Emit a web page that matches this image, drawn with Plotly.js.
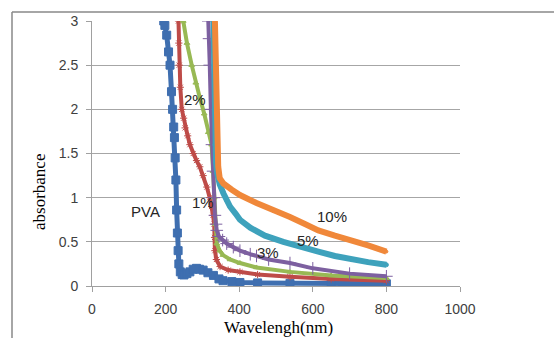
<!DOCTYPE html>
<html>
<head>
<meta charset="utf-8">
<script src="https://cdn.plot.ly/plotly-3.0.1.min.js"></script>
<style>html,body{margin:0;padding:0;background:#fff;}#chart{width:554px;height:338px;}</style>
</head>
<body>
<div id="chart"></div>
<script>
// Wavelength (nm) and absorbance values
const pvaX = [195,198,203,208,212,216,219,222,224,226,228,230,232,234,236,240,245,250,258,266,275,284,292,302,315,330,345,356,380,402,450,538,650,800];
const pvaY = [3.0,2.95,2.84,2.65,2.5,2.2,2.0,1.8,1.68,1.45,1.2,0.86,0.6,0.4,0.25,0.16,0.13,0.125,0.14,0.16,0.19,0.2,0.19,0.18,0.15,0.12,0.08,0.06,0.05,0.04,0.035,0.03,0.025,0.025];

const p1X = [235,236,237,240,244,249,253,260,266,275,284,293,302,312,320,325,329,332,333,334,338,348,370,402,450,538,650,800];
const p1Y = [3.0,2.75,2.5,2.25,2.0,1.9,1.79,1.7,1.6,1.5,1.42,1.35,1.25,1.12,1.0,0.9,0.8,0.7,0.55,0.4,0.3,0.22,0.18,0.16,0.13,0.105,0.08,0.06];

const p2X = [248,258,271,282,293,305,316,325,329,332,335,339,347,356,375,402,447,538,650,800];
const p2Y = [3.0,2.75,2.5,2.3,2.13,1.95,1.74,1.6,1.3,1.0,0.7,0.48,0.4,0.35,0.3,0.26,0.21,0.16,0.12,0.09];

const p3X = [316,318,320,323,326,329,331,334,337,339,345,355,366,384,402,430,447,480,538,600,700,800];
const p3Y = [3.0,2.8,2.5,2.0,1.6,1.3,1.0,0.8,0.7,0.63,0.56,0.52,0.48,0.44,0.4,0.36,0.34,0.3,0.26,0.2,0.14,0.11];

const p5X = [330,331,332,334,337,340,347,357,366,375,390,402,430,470,520,560,615,660,706,750,800];
const p5Y = [3.0,2.5,2.0,1.6,1.4,1.28,1.15,1.05,0.97,0.9,0.82,0.75,0.66,0.57,0.5,0.46,0.39,0.34,0.3,0.27,0.24];

const p10X = [334,336,338,341,343,347,357,380,402,447,493,538,580,615,660,706,750,800];
const p10Y = [3.0,2.5,2.0,1.6,1.35,1.22,1.16,1.09,1.03,0.94,0.85,0.78,0.7,0.63,0.57,0.52,0.46,0.39];

const xTicks = [0,200,400,600,800,1000];
const yTicks = [0,0.5,1,1.5,2,2.5,3];
const yTickText = ['0','0.5','1','1.5','2','2.5','3'];

const labels = [
  {t:'PVA', x:145, y:0.84},
  {t:'1%', x:302, y:0.95},
  {t:'2%', x:280, y:2.11},
  {t:'3%', x:478, y:0.38},
  {t:'5%', x:587, y:0.51},
  {t:'10%', x:652, y:0.79}
];

function series(x, y, color, symbol, msize, lw) {
  return {
    x: x, y: y, type: 'scatter', mode: 'lines+markers',
    line: {color: color, width: lw},
    marker: {color: color, symbol: symbol, size: msize, line: {color: color, width: 1}},
    showlegend: false, hoverinfo: 'skip'
  };
}

const data = [
  series(pvaX, pvaY, '#3F6FB0', 'square', 8, 5),
  series(p1X, p1Y, '#BE4B48', 'asterisk-open', 6, 4),
  series(p2X, p2Y, '#98B954', 'triangle-up', 5, 4),
  series(p3X, p3Y, '#7D60A0', 'cross-thin-open', 9, 4),
  series(p5X, p5Y, '#3EA2BC', 'circle', 4, 6),
  series(p10X, p10Y, '#F0883A', 'circle', 3, 6)
];

const axisFont = {family: 'Liberation Sans, Arial, sans-serif', size: 14, color: '#404040'};

const annotations = labels.map(l => ({
  x: l.x, y: l.y, xref: 'x', yref: 'y', text: l.t, showarrow: false,
  xanchor: 'center', yanchor: 'middle',
  font: {family: 'Liberation Sans, Arial, sans-serif', size: 15, color: '#262626'}
}));
annotations.push({
  x: (278-92)/368, y: (286-327)/265, xref: 'paper', yref: 'paper', text: 'Wavelengh(nm)',
  xanchor: 'center', yanchor: 'middle',
  showarrow: false, font: {family: 'Liberation Serif, Times New Roman, serif', size: 17, color: '#000'}
});
annotations.push({
  x: (39-92)/368, y: (286-192)/265, xref: 'paper', yref: 'paper', text: 'absorbance', textangle: -90,
  xanchor: 'center', yanchor: 'middle',
  showarrow: false, font: {family: 'Liberation Serif, Times New Roman, serif', size: 17, color: '#000'}
});

const layout = {
  width: 554, height: 338,
  margin: {l: 92, r: 94, t: 21, b: 52},
  paper_bgcolor: '#fff', plot_bgcolor: '#fff',
  xaxis: {
    range: [0, 1000], tickvals: xTicks, ticktext: xTicks.map(String),
    showgrid: false, zeroline: false, showline: true, linecolor: '#A0A0A0', linewidth: 1,
    ticks: 'outside', ticklen: 5, tickcolor: '#A0A0A0', tickfont: axisFont, ticklabelstandoff: 5
  },
  yaxis: {
    range: [0, 3], tickvals: yTicks, ticktext: yTickText,
    showgrid: true, gridcolor: '#A6A6A6', gridwidth: 1, zeroline: false,
    showline: true, linecolor: '#A0A0A0', linewidth: 1,
    ticks: 'outside', ticklen: 5, tickcolor: '#A0A0A0', tickfont: axisFont, ticklabelstandoff: 5
  },
  annotations: annotations,
  shapes: [
    {type: 'line', xref: 'paper', yref: 'paper', x0: (12-92)/368, x1: (554-92)/368, y0: (286-12)/265, y1: (286-12)/265, line: {color: '#888', width: 1.5}},
    {type: 'line', xref: 'paper', yref: 'paper', x0: (12-92)/368, x1: (12-92)/368, y0: (286-12)/265, y1: (286-340)/265, line: {color: '#888', width: 1.5}}
  ]
};

Plotly.newPlot('chart', data, layout, {staticPlot: true, displayModeBar: false});
</script>
</body>
</html>
